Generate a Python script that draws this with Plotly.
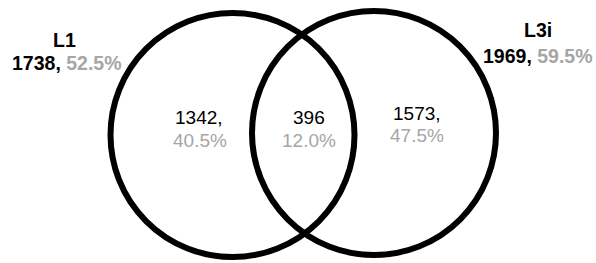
import plotly.graph_objects as go

set_names = ["L1", "L3i"]
set_totals = [1738, 1969]
set_pcts = ["52.5%", "59.5%"]
region_counts = ["1342,", "396", "1573,"]
region_pcts = ["40.5%", "12.0%", "47.5%"]

W, H = 596, 263
GRAY = "#a6a6a6"
FONT = "Liberation Sans, Arial, sans-serif"

fig = go.Figure()

circles = [(232.5, 135, 122), (374, 133, 122)]
for cx, cy, r in circles:
    fig.add_shape(type="circle", xref="x", yref="y",
                  x0=cx - r, x1=cx + r, y0=cy - r, y1=cy + r,
                  line=dict(color="black", width=6), fillcolor="rgba(0,0,0,0)")

# set labels: (x of name, y of name, x of count line, anchor, y of count line)
set_pos = [(64, 39.5, 10, "left", 63), (537.5, 30, 595, "right", 55.5)]
for name, tot, pct, (xn, yn, xc, anc, yc) in zip(set_names, set_totals, set_pcts, set_pos):
    fig.add_annotation(x=xn, y=yn, text=f"<b>{name}</b>", showarrow=False,
                       font=dict(size=19.5, color="black", family=FONT))
    fig.add_annotation(x=xc, y=yc, xanchor=anc,
                       text=f"<b>{tot},</b> <b><span style='color:{GRAY}'>{pct}</span></b>",
                       showarrow=False, font=dict(size=19.5, color="black", family=FONT))

region_pos = [(199, 117.5, 200, 140), (308.5, 117.5, 308.5, 140), (416.5, 113.5, 417, 135)]
for (x1, y1, x2, y2), c, p in zip(region_pos, region_counts, region_pcts):
    fig.add_annotation(x=x1, y=y1, text=c, showarrow=False,
                       font=dict(size=19, color="black", family=FONT))
    fig.add_annotation(x=x2, y=y2, text=p, showarrow=False,
                       font=dict(size=19, color=GRAY, family=FONT))

fig.update_layout(
    width=W, height=H, margin=dict(l=0, r=0, t=0, b=0),
    plot_bgcolor="white", paper_bgcolor="white", showlegend=False,
    xaxis=dict(range=[0, W], visible=False, fixedrange=True),
    yaxis=dict(range=[H, 0], visible=False, fixedrange=True),
)
fig.write_html("out.html", config={"displayModeBar": False, "staticPlot": True},
               post_script="document.body.style.margin='0';document.body.style.overflow='hidden';")
